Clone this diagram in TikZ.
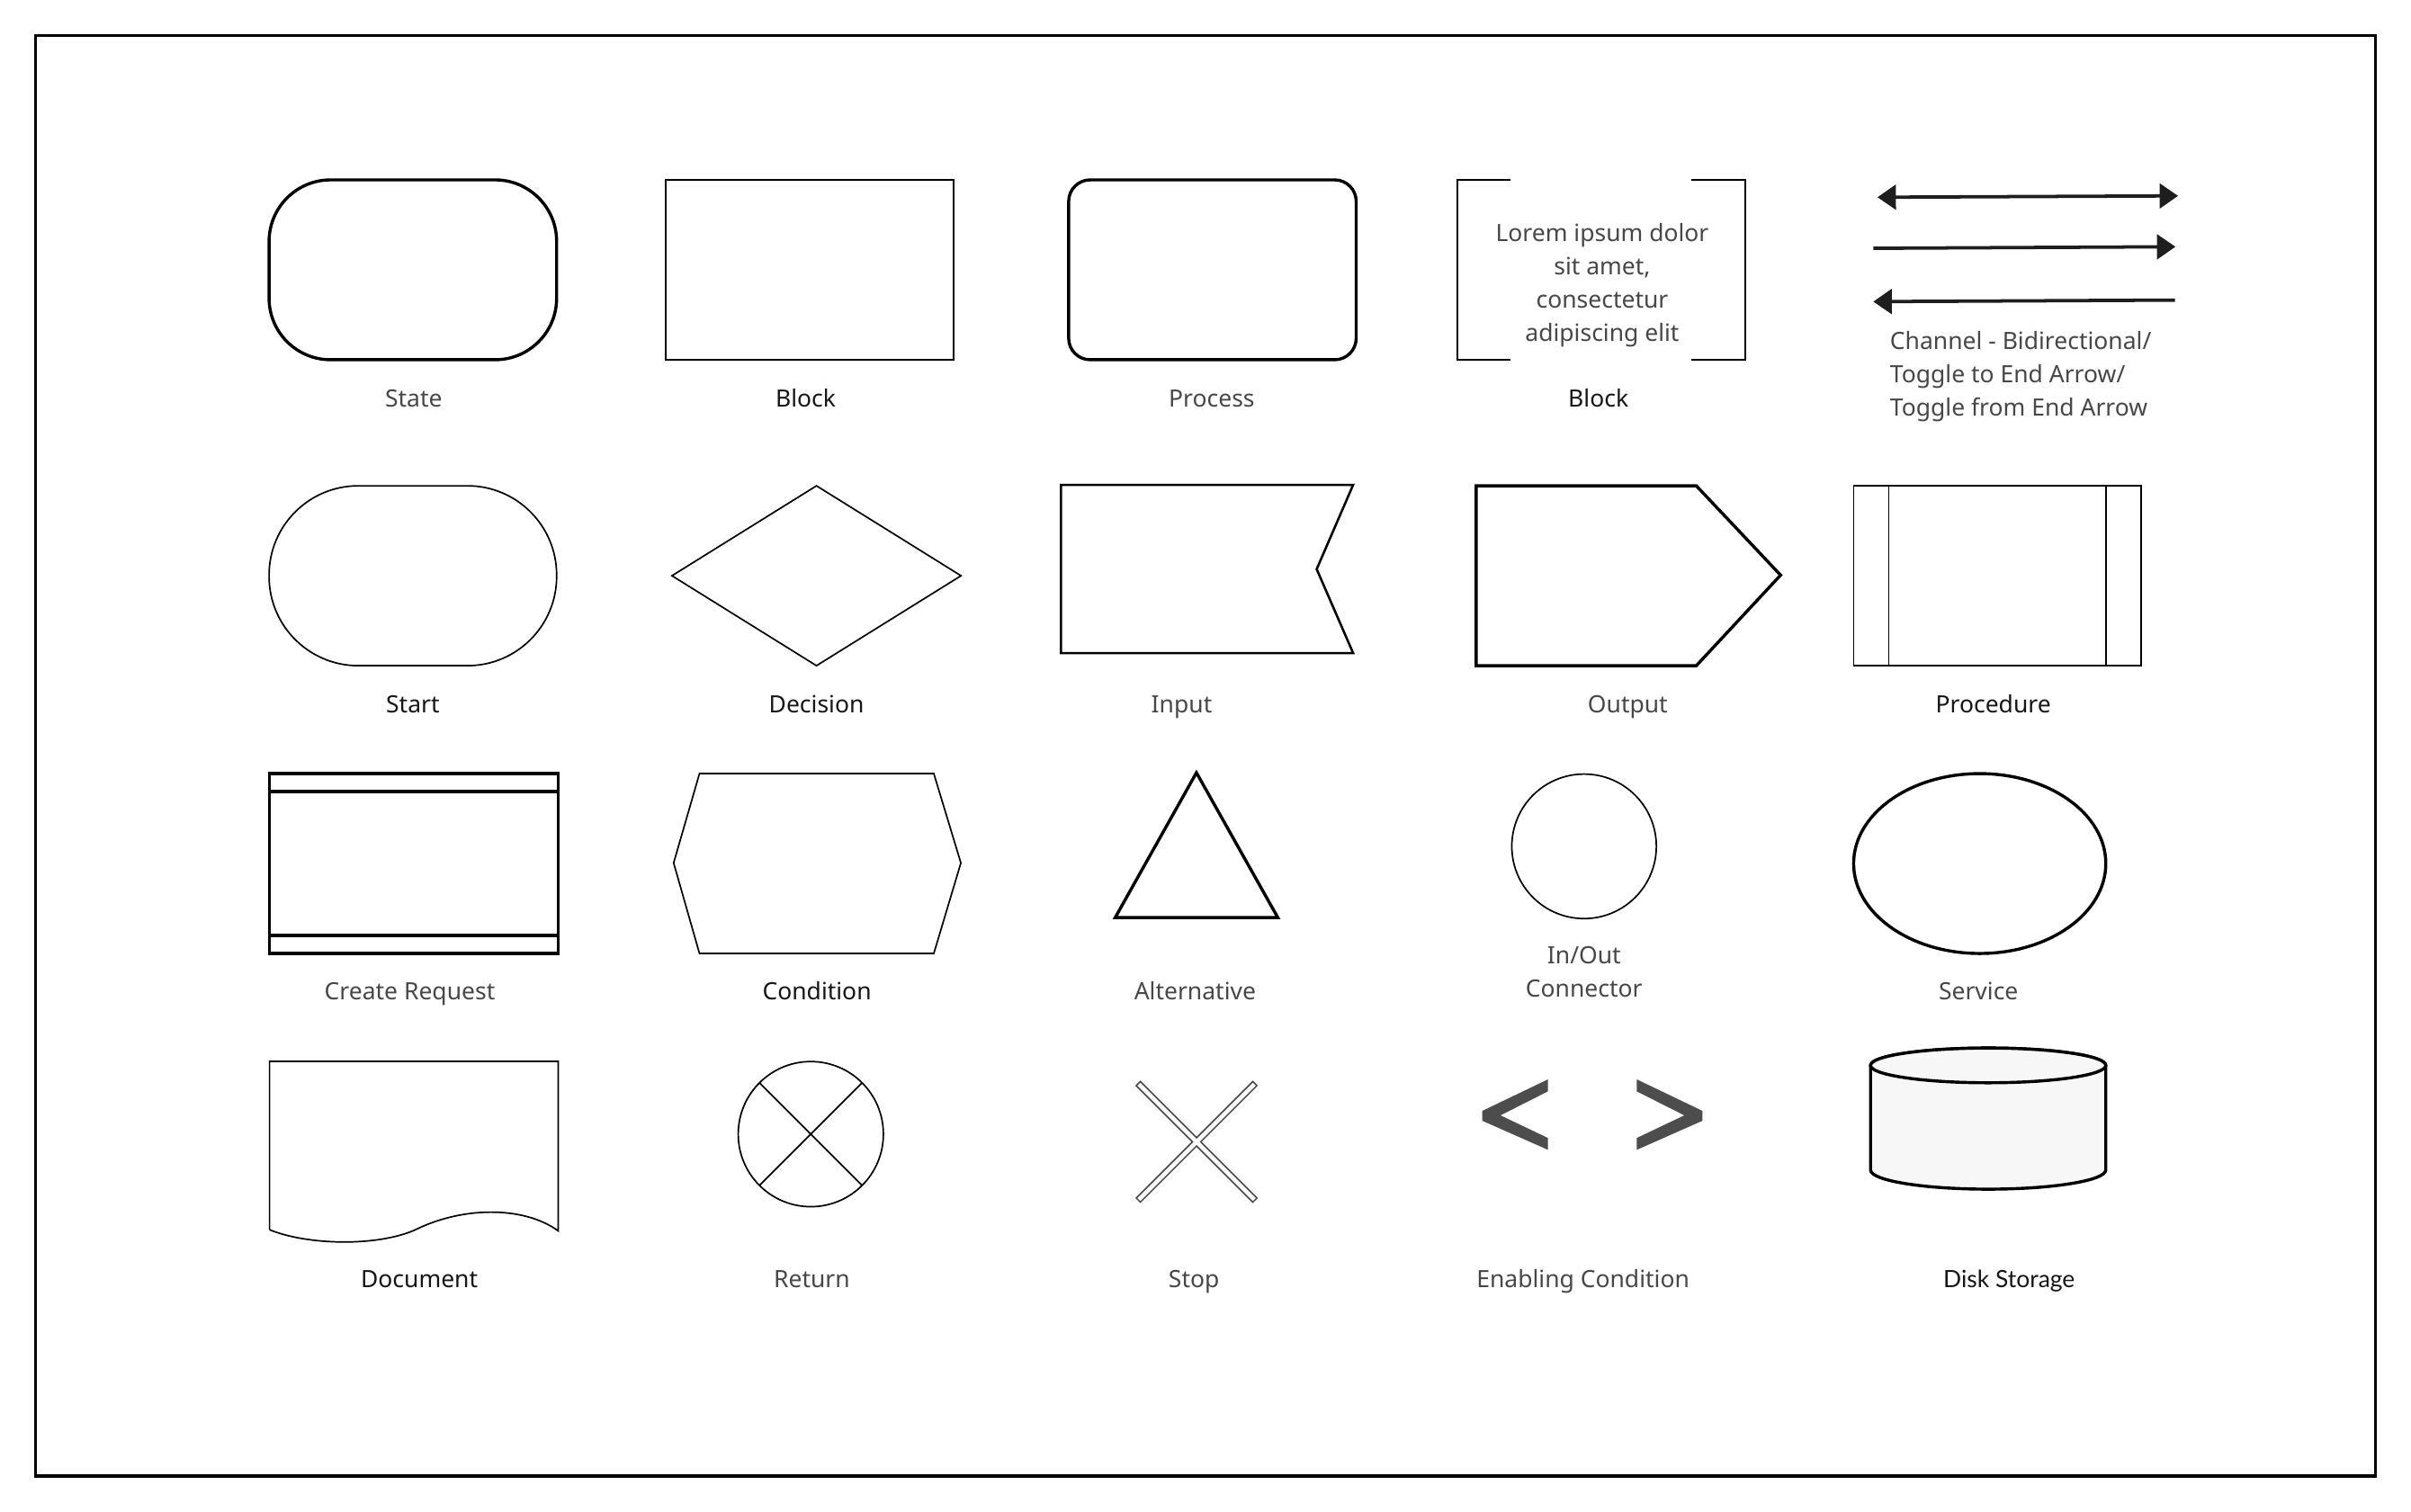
\documentclass[tikz,border=0pt]{standalone}
\usepackage{fontspec}
\setmainfont{Noto Sans}
\newfontfamily\latofont{Lato}
\usetikzlibrary{arrows.meta}
\definecolor{labelgray}{HTML}{474747}
\definecolor{labelblack}{HTML}{161616}
\definecolor{chevgray}{HTML}{4D4D4D}
\definecolor{diskfill}{HTML}{F7F7F7}
\definecolor{arrowblack}{HTML}{1E1E1E}

\begin{document}
\begin{tikzpicture}[x=1pt, y=-1pt,
  thinshape/.style={line width=1pt, draw=black},
  midshape/.style={line width=1.5pt, draw=black},
  thickshape/.style={line width=2pt, draw=black},
  graylabel/.style={text=labelgray, anchor=base, inner sep=0pt, font=\fontsize{15.5}{21.5}\selectfont},
  blacklabel/.style={graylabel, text=labelblack},
  channel/.style={line width=2.2pt, draw=arrowblack}
]

\useasboundingbox (0,0) rectangle (1568,983);
\draw [line width=2pt] (23,23) rectangle (1545,960);

\draw [thickshape, rounded corners=40pt] (175,117) rectangle (362,234);
\draw [thinshape] (433,117) rectangle (620,234);
\draw [thickshape, rounded corners=14pt] (695,117) rectangle (882,234);
\draw [thinshape] (982.5,117) -- (948,117) -- (948,234) -- (982.5,234);
\draw [thinshape] (1100,117) -- (1135,117) -- (1135,234) -- (1100,234);
\node [graylabel, align=center, anchor=center] (lorem) at (1042,185.5)
  {Lorem ipsum dolor\\sit amet,\\consectetur\\adipiscing elit};

\coordinate (bidiL) at (1221,128.3);
\coordinate (bidiR) at (1416.5,127.4);
\coordinate (toL) at (1218.3,161.5);
\coordinate (toR) at (1414.8,160.5);
\coordinate (fromL) at (1218.3,196.2);
\coordinate (fromR) at (1414.5,195.2);
\draw [channel, {Triangle[length=12pt,width=16pt]}-{Triangle[length=12pt,width=16pt]}] (bidiL) -- (bidiR);
\draw [channel, -{Triangle[length=12pt,width=16pt]}] (toL) -- (toR);
\draw [channel, {Triangle[length=12pt,width=16pt]}-] (fromL) -- (fromR);
\node [graylabel, align=left, anchor=west] (lchannel) at (1229,245)
  {Channel - Bidirectional/\\Toggle to End Arrow/\\Toggle from End Arrow};

\node [graylabel] (lstate) at (269,264.5) {State};
\node [blacklabel] (lblock) at (524,264.5) {Block};
\node [graylabel] (lprocess) at (788,264.5) {Process};
\node [blacklabel] (lbracket) at (1039.5,264.5) {Block};

\draw [thinshape, rounded corners=58pt] (175,316) rectangle (362,433);
\draw [thinshape] (531,316) -- (625,374.5) -- (531,433) -- (437,374.5) -- cycle;
\draw [midshape] (690,315.4) -- (880,315.4) -- (856.3,370.2) -- (880,424.8) -- (690,424.8) -- cycle;
\draw [thickshape] (960,316) -- (1103.2,316) -- (1158,374.1) -- (1103.2,433) -- (960,433) -- cycle;
\draw [thinshape] (1205.5,316) rectangle (1392.4,433);
\draw [thinshape] (1228.4,316) -- (1228.4,433);
\draw [thinshape] (1369.6,316) -- (1369.6,433);

\node [blacklabel] (lstart) at (268.5,463.5) {Start};
\node [blacklabel] (ldecision) at (531,463.5) {Decision};
\node [graylabel] (linput) at (768.5,463.5) {Input};
\node [graylabel] (loutput) at (1058.6,463.5) {Output};
\node [blacklabel] (lprocedure) at (1296.3,463.5) {Procedure};

\draw [thickshape] (175.3,503.2) rectangle (363,620.2);
\draw [thickshape] (175.3,514.9) -- (363,514.9);
\draw [thickshape] (175.3,608.5) -- (363,608.5);
\draw [thinshape] (454.9,503.2) -- (607.3,503.2) -- (624.9,561.3) -- (607.3,620.2) -- (454.9,620.2) -- (438.1,561.3) -- cycle;
\draw [thickshape] (778.1,502.6) -- (831,596.8) -- (725.3,596.8) -- cycle;
\draw [thinshape] (1030.2,550.5) circle [radius=47];
\draw [thickshape] (1287.5,561.7) ellipse [x radius=82, y radius=58.5];

\node [graylabel] (lrequest) at (266.5,650.5) {Create Request};
\node [blacklabel] (lcondition) at (531.3,650.5) {Condition};
\node [graylabel] (lalternative) at (777.2,650.5) {Alternative};
\node [graylabel, align=center, anchor=center] (linout) at (1030.2,632) {In/Out\\Connector};
\node [graylabel] (lservice) at (1286.7,650.5) {Service};

\draw [thinshape] (175.3,799.9) -- (175.3,690.4) -- (363,690.4) -- (363,800.6)
  .. controls (340,784) and (300,785) .. (270,800)
  .. controls (245,811) and (200,810) .. (175.3,799.9);
\draw [thinshape] (527.3,737.7) circle [radius=47.2];
\draw [thinshape] (493.9,704.3) -- (560.7,771.1);
\draw [thinshape] (560.7,704.3) -- (493.9,771.1);
\begin{scope}[shift={(778.2,742.7)}, rotate=45]
\draw [line width=0.9pt, draw=labelgray] (53.6,1.9) -- (1.9,1.9) -- (1.9,53.6) -- (-1.9,53.6) -- (-1.9,1.9)
  -- (-53.6,1.9) -- (-53.6,-1.9) -- (-1.9,-1.9) -- (-1.9,-53.6) -- (1.9,-53.6) -- (1.9,-1.9) -- (53.6,-1.9) -- cycle;
\end{scope}
\fill [chevgray] (1006.7,702.1) -- (964,722.6) -- (964,729) -- (1006.7,747.9) -- (1006.7,740.2) -- (975.8,725.5) -- (1006.7,709.9) -- cycle;
\fill [chevgray] (1064.5,702.1) -- (1107.2,722.6) -- (1107.2,729) -- (1064.5,747.9) -- (1064.5,740.2) -- (1095.4,725.5) -- (1064.5,709.9) -- cycle;
\draw [thickshape, fill=diskfill] (1216.5,693) -- (1216.5,761) arc [start angle=180, end angle=0, x radius=76.5, y radius=12.5]
  -- (1369.5,693) arc [start angle=0, end angle=-180, x radius=76.5, y radius=11.3] -- cycle;
\draw [thickshape, fill=diskfill] (1293,693) ellipse [x radius=76.5, y radius=11.3];

\node [blacklabel] (ldocument) at (272.7,837.5) {Document};
\node [graylabel] (lreturn) at (528,837.5) {Return};
\node [graylabel] (lstop) at (776.5,837.5) {Stop};
\node [graylabel] (lenabling) at (1029.5,837.5) {Enabling Condition};
\node [blacklabel, font=\latofont\fontsize{15.5}{21.5}\selectfont] (ldisk) at (1306.6,837.5) {Disk Storage};
\end{tikzpicture}
\end{document}
